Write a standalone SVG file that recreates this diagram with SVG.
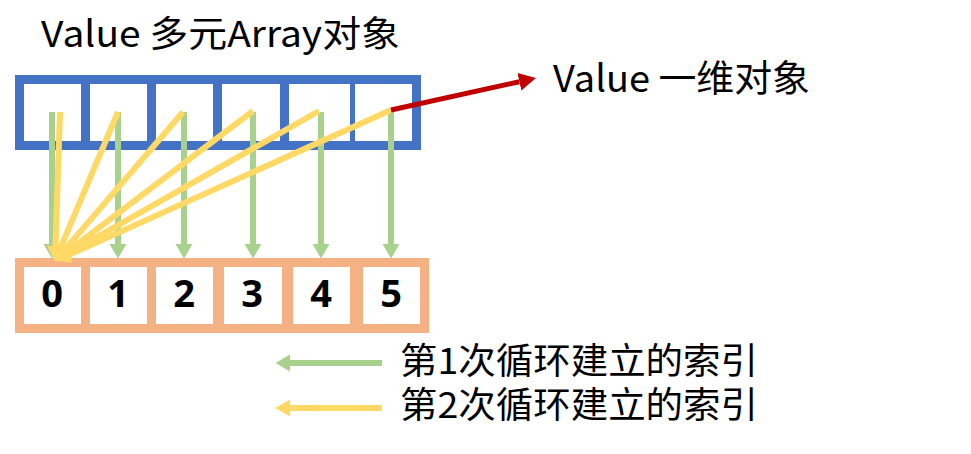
<svg xmlns="http://www.w3.org/2000/svg" width="971" height="454" viewBox="0 0 971 454">
<style>
.t{font-family:"Noto Sans CJK SC","Noto Sans",sans-serif;fill:#000}
.d{font-family:"Open Sans","Noto Sans",sans-serif;font-weight:bold;font-size:38px;text-anchor:middle;fill:#000}
.g{stroke:#A9D18E;stroke-width:6;fill:none;marker-end:url(#ag)}
.y{stroke:#FFD966;stroke-width:6;fill:none;marker-end:url(#ay)}
.cell{fill:#fff}
</style>
<defs>
<marker id="ag" markerUnits="userSpaceOnUse" viewBox="0 -10 16 20" refX="0" refY="0" markerWidth="16" markerHeight="20" orient="auto"><path d="M0,-8.5 L14.5,0 L0,8.5 Z" fill="#A9D18E"/></marker>
<marker id="ay" markerUnits="userSpaceOnUse" viewBox="0 -10 16 20" refX="0" refY="0" markerWidth="16" markerHeight="20" orient="auto"><path d="M0,-8.5 L15,0 L0,8.5 Z" fill="#FFD966"/></marker>
<marker id="ar" markerUnits="userSpaceOnUse" viewBox="0 -10 18 20" refX="0" refY="0" markerWidth="18" markerHeight="20" orient="auto"><path d="M0,-9 L17,0 L0,9 Z" fill="#C00000"/></marker>
</defs>
<g id="title"><text class="t" x="41" y="47" font-size="36" textLength="359" lengthAdjust="spacingAndGlyphs">Value 多元Array对象</text></g>
<g id="multi-array">
<rect x="15" y="75" width="406" height="75" fill="#4472C4"/>
<rect class="cell" x="24" y="84" width="57" height="57"/>
<rect class="cell" x="90" y="84" width="57" height="57"/>
<rect class="cell" x="156" y="84" width="57" height="57"/>
<rect class="cell" x="222" y="84" width="58" height="57"/>
<rect class="cell" x="289" y="84" width="61" height="57"/>
<rect class="cell" x="355" y="84" width="57" height="57"/>
</g>
<g id="index-array">
<rect x="15" y="258" width="414" height="75" fill="#F4B183"/>
<rect class="cell" x="24" y="267" width="57" height="57"/>
<rect class="cell" x="90" y="267" width="57" height="57"/>
<rect class="cell" x="156" y="267" width="57" height="57"/>
<rect class="cell" x="224" y="267" width="58" height="57"/>
<rect class="cell" x="293" y="267" width="57" height="57"/>
<rect class="cell" x="363" y="267" width="57" height="57"/>
<text class="d" x="52" y="307">0</text>
<text class="d" x="118" y="307">1</text>
<text class="d" x="184" y="307">2</text>
<text class="d" x="252" y="307">3</text>
<text class="d" x="321" y="307">4</text>
<text class="d" x="391" y="307">5</text>
</g>
<g id="label-1d"><text class="t" x="553" y="92" font-size="37" textLength="257" lengthAdjust="spacingAndGlyphs">Value 一维对象</text></g>
<g id="legend">
<text class="t" x="400" y="374" font-size="36" textLength="358" lengthAdjust="spacingAndGlyphs">第1次循环建立的索引</text>
<text class="t" x="400" y="418" font-size="36" textLength="358" lengthAdjust="spacingAndGlyphs">第2次循环建立的索引</text>
</g>
<g id="connectors">
<line class="g" x1="52" y1="112" x2="52" y2="244"/>
<line class="g" x1="118" y1="112" x2="118" y2="244"/>
<line class="g" x1="184" y1="112" x2="184" y2="244"/>
<line class="g" x1="253" y1="112" x2="253" y2="244"/>
<line class="g" x1="321" y1="112" x2="321" y2="244"/>
<line class="g" x1="391" y1="112" x2="391" y2="244"/>
<line class="y" x1="60" y1="112" x2="55.5" y2="246"/>
<line class="y" x1="118" y1="112" x2="60.8" y2="247.2"/>
<line class="y" x1="183" y1="112" x2="64.8" y2="249.6"/>
<line class="y" x1="253" y1="111" x2="67" y2="251.9"/>
<line class="y" x1="319" y1="111" x2="68" y2="253.6"/>
<line class="y" x1="391" y1="110" x2="68.7" y2="254.9"/>
<line x1="391" y1="110" x2="519.4" y2="81.7" stroke="#C00000" stroke-width="5" marker-end="url(#ar)"/>
<line class="g" x1="382" y1="363" x2="290" y2="363"/>
<line class="y" x1="382" y1="408" x2="290" y2="408"/>
</g>
</svg>
